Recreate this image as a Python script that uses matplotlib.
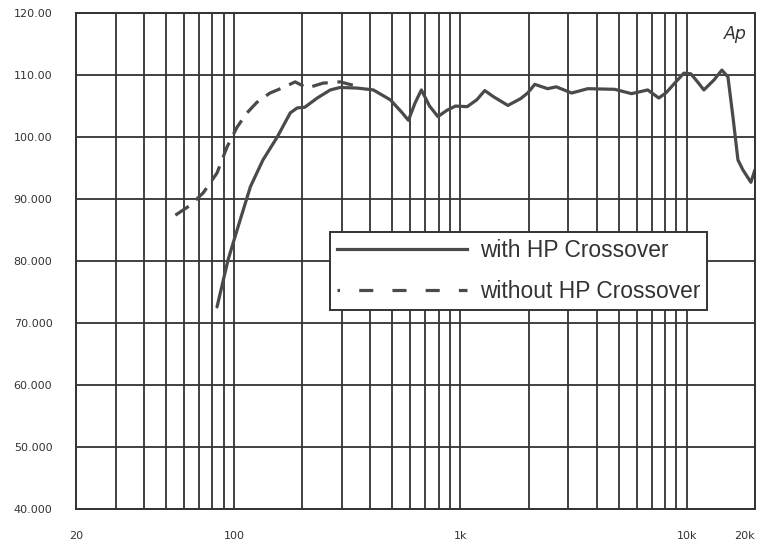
import matplotlib
matplotlib.use("Agg")
import matplotlib.pyplot as plt
from matplotlib.ticker import FixedLocator, LogLocator, NullFormatter
from matplotlib.lines import Line2D

# Data
freq_with = [84, 94, 104, 118, 134, 155, 177, 190, 205, 233, 266, 294, 350, 412, 490,
             550, 589, 630, 672, 730, 795, 870, 950, 1070, 1180, 1280, 1400, 1620, 1845,
             1980, 2130, 2427, 2650, 3100, 3650, 4800, 5700, 6720, 7520, 8080, 9000, 9700,
             10420, 11100, 11900, 13180, 14290, 15200, 16000, 16830, 17700, 19200, 20000]
level_with = [72.6, 80.2, 85.5, 92.0, 96.3, 100.0, 103.9, 104.7, 104.8, 106.3, 107.6, 108.0,
              107.9, 107.6, 106.0, 104.0, 102.7, 105.5, 107.6, 105.0, 103.3, 104.3, 105.0,
              104.9, 106.0, 107.5, 106.5, 105.1, 106.2, 107.1, 108.5, 107.8, 108.1, 107.1,
              107.8, 107.7, 107.0, 107.6, 106.3, 107.1, 109.0, 110.3, 110.2, 109.0, 107.6,
              109.2, 110.8, 109.7, 103.2, 96.3, 94.7, 92.7, 94.7]
freq_without = [55, 64, 73, 84, 93, 103, 114, 126, 144, 165, 186, 210, 247, 294, 340]
level_without = [87.4, 89.0, 91.0, 94.2, 98.4, 101.6, 103.9, 105.6, 107.1, 108.0, 108.9,
                 107.9, 108.7, 108.9, 108.3]

x_ticks = [20, 100, 1000, 10000, 20000]
x_labels = ["20", "100", "1k", "10k", "20k"]
y_ticks = [40, 50, 60, 70, 80, 90, 100, 110, 120]
y_labels = ["40.000", "50.000", "60.000", "70.000", "80.000", "90.000", "100.00", "110.00", "120.00"]
legend_labels = ["with HP Crossover", "without HP Crossover"]

grid_c = "#333333"
curve_c = "#4a4a4a"

fig = plt.figure(figsize=(7.62, 5.44), dpi=100)
ax = fig.add_axes([0.0997, 0.0643, 0.891, 0.9117])

ax.plot(freq_with, level_with, color=curve_c, lw=2.3, solid_capstyle="round")
ax.plot(freq_without, level_without, color=curve_c, lw=2.3, dashes=(5, 3))

ax.set_xscale("log")
ax.set_xlim(20, 20000)
ax.set_ylim(40, 120)
ax.xaxis.set_major_locator(FixedLocator(x_ticks))
ax.set_xticklabels(x_labels)
ax.xaxis.set_minor_locator(LogLocator(base=10, subs=range(2, 10)))
ax.xaxis.set_minor_formatter(NullFormatter())
ax.set_yticks(y_ticks)
ax.set_yticklabels(y_labels)

ax.grid(True, which="both", color=grid_c, lw=1.3)
for s in ax.spines.values():
    s.set_color(grid_c)
    s.set_linewidth(1.4)

ax.tick_params(axis="both", which="both", length=0)
ax.tick_params(axis="y", pad=17, labelsize=8, colors="#333333")
ax.tick_params(axis="x", pad=16, labelsize=8, colors="#333333")
for lbl in ax.get_xticklabels() + ax.get_yticklabels():
    lbl.set_family("DejaVu Sans")
xl = ax.get_xticklabels()
xl[-1].set_horizontalalignment("right")
xl[0].set_horizontalalignment("center")

ax.text(0.988, 0.975, "Ap", transform=ax.transAxes, ha="right", va="top",
        fontsize=12.5, style="italic", color="#333333", family="DejaVu Sans")

handles = [Line2D([], [], color=curve_c, lw=2.3),
           Line2D([], [], color=curve_c, lw=2.3, linestyle=(3.6, (4.4, 6.0)))]
leg = ax.legend(handles, legend_labels, loc="upper left", bbox_to_anchor=(0.374, 0.558),
                prop={"family": "Liberation Sans", "size": 16.4}, frameon=True, fancybox=False,
                edgecolor=grid_c, framealpha=1, handlelength=5.7, handletextpad=0.6,
                borderpad=0.3, labelspacing=0.8, borderaxespad=0)
leg.get_frame().set_linewidth(1.4)
for t in leg.get_texts():
    t.set_color("#333333")

fig.savefig("out.png", dpi=100, facecolor="white")
